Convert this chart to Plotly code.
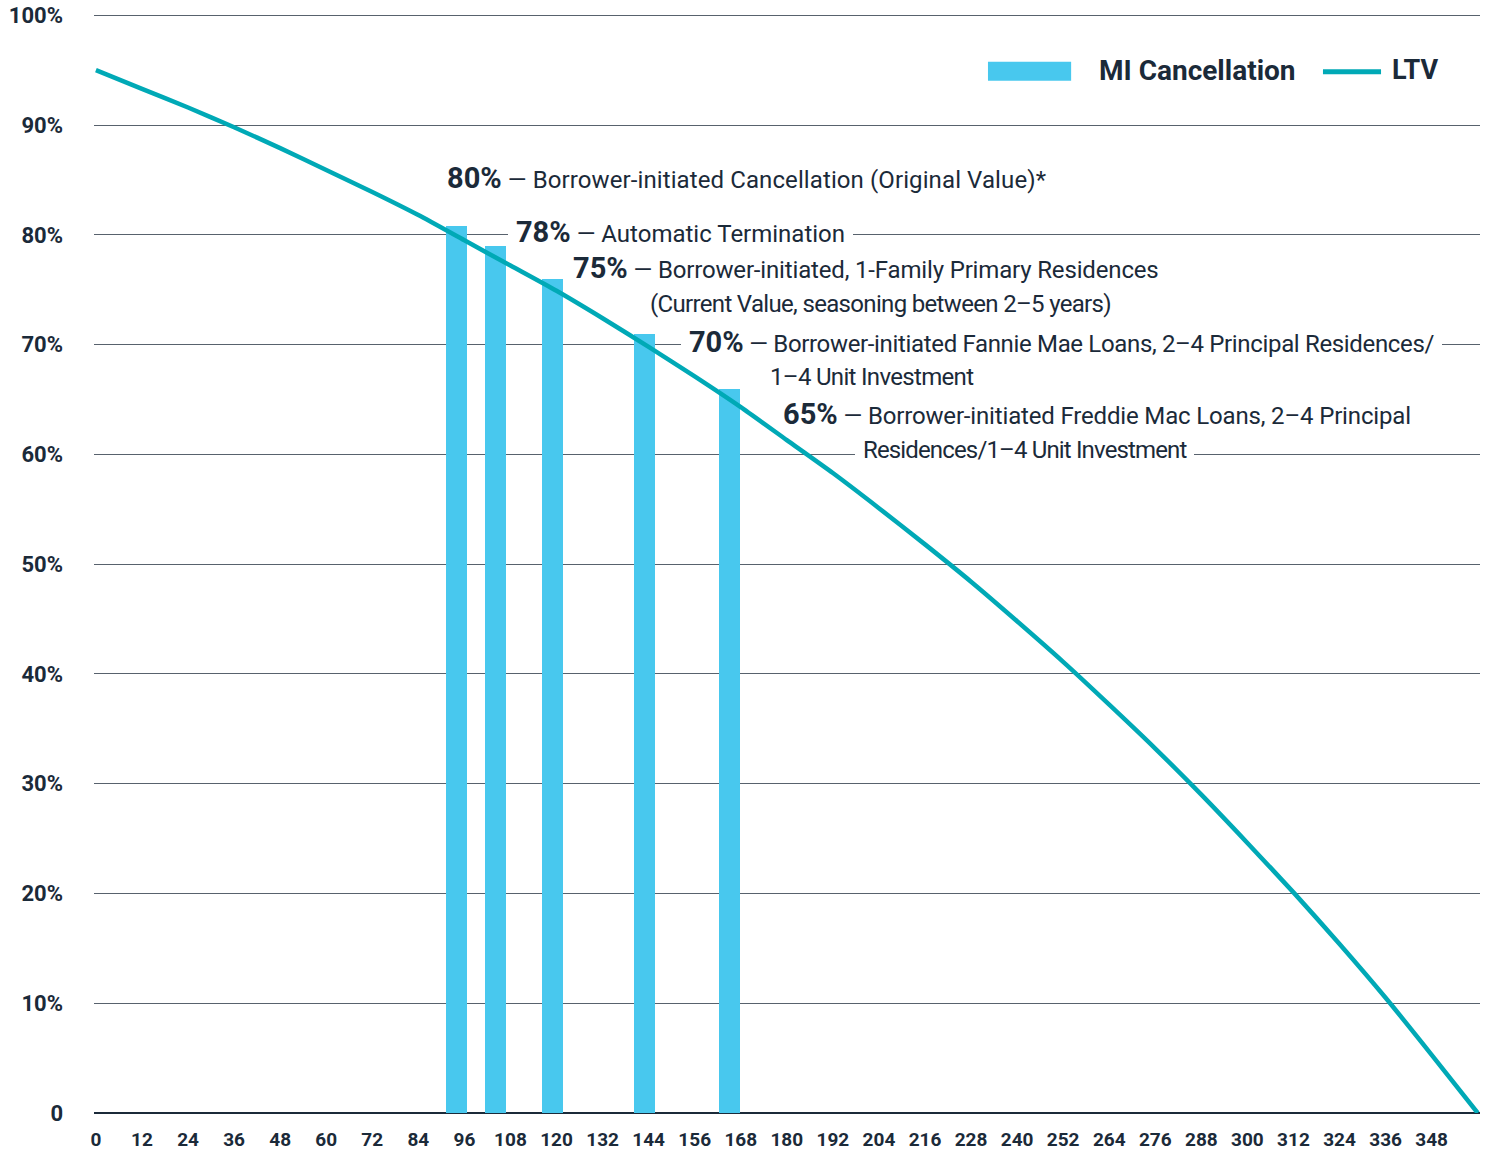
import plotly.graph_objects as go

# ---------------- data ----------------
months = [0, 12, 24, 36, 48, 60, 72, 84, 96, 108, 120, 132, 144, 156, 168,
          180, 192, 204, 216, 228, 240, 252, 264, 276, 288, 300, 312, 324,
          336, 348, 360]
ltv = [95.0, 93.3, 91.6, 89.8, 87.9, 85.9, 83.9, 81.8, 79.5, 77.2, 74.9,
       72.4, 69.8, 67.1, 64.3, 61.3, 58.3, 55.1, 51.8, 48.4, 44.8, 41.1,
       37.2, 33.2, 29.0, 24.6, 20.1, 15.4, 10.5, 5.3, 0.0]

mi_months = [94, 104, 119, 143, 165]
mi_values = [80.8, 79.0, 76.0, 71.0, 66.0]

x_tick_vals = [0, 12, 24, 36, 48, 60, 72, 84, 96, 108, 120, 132, 144, 156,
               168, 180, 192, 204, 216, 228, 240, 252, 264, 276, 288, 300,
               312, 324, 336, 348]
x_tick_text = [str(v) for v in x_tick_vals]
y_tick_vals = [0, 10, 20, 30, 40, 50, 60, 70, 80, 90, 100]
y_tick_text = ["0", "10%", "20%", "30%", "40%", "50%", "60%", "70%",
               "80%", "90%", "100%"]

# annotation notes: (percent label, description)
note_pcts = ["80%", "78%", "75%", None, "70%", None, "65%", None]
note_texts = [
    "Borrower-initiated Cancellation (Original Value)*",
    "Automatic Termination",
    "Borrower-initiated, 1-Family Primary Residences",
    "(Current Value, seasoning between 2\u20135 years)",
    "Borrower-initiated Fannie Mae Loans, 2\u20134 Principal Residences/",
    "1\u20134 Unit Investment",
    "Borrower-initiated Freddie Mac Loans, 2\u20134 Principal",
    "Residences/1\u20134 Unit Investment",
]
note_x = [91.5, 107.3, 124.3, 144.3, 152.4, 175.6, 179.0, 197.7]
note_y = [85.15, 80.3, 77.0, 73.7, 70.27, 67.05, 63.68, 60.4]
note_bg = [False, True, False, False, True, False, False, True]
note_spacing = [0.1, 0.0, -0.16, -0.67, -0.34, -0.68, -0.16, -0.85]

# ---------------- styling ----------------
FONT = "Roboto"
NAVY = "#1b2a39"
BAR_COLOR = "#48c8ee"
LINE_COLOR = "#00a9b6"
GRID = "#58626d"

fig = go.Figure()
fig.add_trace(go.Bar(
    x=mi_months, y=mi_values, width=5.5, name="MI Cancellation",
    marker=dict(color=BAR_COLOR, line=dict(width=0)), showlegend=False,
))
fig.add_trace(go.Scatter(
    x=months, y=ltv, mode="lines", name="LTV",
    line=dict(color=LINE_COLOR, width=4.5, shape="spline", smoothing=0.6),
    showlegend=False,
))

annotations = []
for pct, txt, x, y, bg, sp in zip(note_pcts, note_texts, note_x, note_y,
                                  note_bg, note_spacing):
    body = txt if pct is None else "\u00a0\u2014 " + txt
    t = '<span style="letter-spacing:%.2fpx">%s</span>' % (sp, body)
    if pct:
        t = '<span style="font-size:29px"><b>' + pct + '</b></span>' + t
    if bg:
        t = "\u00a0" + t + "\u00a0"
    annotations.append(dict(
        x=x, y=y, xref="x", yref="y", text=t, showarrow=False,
        xanchor="left", yanchor="middle", align="left",
        font=dict(family=FONT, size=24, color=NAVY),
        bgcolor="white" if bg else "rgba(0,0,0,0)",
        borderpad=2 if bg else 0, borderwidth=0,
    ))

# manual legend (swatches + labels)
shapes = [
    dict(type="rect", xref="paper", yref="paper", x0=0.645, x1=0.705,
         y0=0.9376, y1=0.9548, fillcolor=BAR_COLOR, line=dict(width=0)),
    dict(type="line", xref="paper", yref="paper", x0=0.8867, x1=0.9286,
         y0=0.9458, y1=0.9458, line=dict(color=LINE_COLOR, width=5)),
]
annotations.append(dict(
    x=0.7244, y=0.9473, xref="paper", yref="paper", text="<b>MI Cancellation</b>",
    showarrow=False, xanchor="left", yanchor="middle", borderpad=0,
    font=dict(family=FONT, size=28, color=NAVY)))
annotations.append(dict(
    x=0.9358, y=0.9473, xref="paper", yref="paper", text="<b>LTV</b>",
    showarrow=False, xanchor="left", yanchor="middle", borderpad=0,
    font=dict(family=FONT, size=27, color=NAVY)))

fig.update_layout(
    width=1488, height=1154,
    margin=dict(l=94, r=8, t=12, b=41),
    paper_bgcolor="white", plot_bgcolor="white",
    font=dict(family=FONT, color=NAVY),
    bargap=0,
    annotations=annotations,
    shapes=shapes,
    showlegend=False,
)
fig.update_xaxes(
    range=[-0.5, 360.6], tickvals=x_tick_vals, ticktext=x_tick_text,
    showgrid=False, zeroline=False, showline=False, ticks="",
    tickfont=dict(family=FONT, size=19, color=NAVY, weight="bold"),
    ticklabelstandoff=13, ticklabeloverflow="allow", automargin=False,
)
fig.update_yaxes(
    range=[0, 100.3], tickvals=y_tick_vals, ticktext=y_tick_text,
    showgrid=True, gridcolor=GRID, gridwidth=1,
    zeroline=True, zerolinecolor=NAVY, zerolinewidth=2,
    showline=False, ticks="",
    tickfont=dict(family=FONT, size=22, color=NAVY, weight="bold"),
    ticklabelstandoff=30, ticklabeloverflow="allow", automargin=False,
)

fig.write_html(
    "out.html",
    config={"displayModeBar": False},
    post_script="document.body.style.margin='0';document.body.style.overflow='hidden';",
)
